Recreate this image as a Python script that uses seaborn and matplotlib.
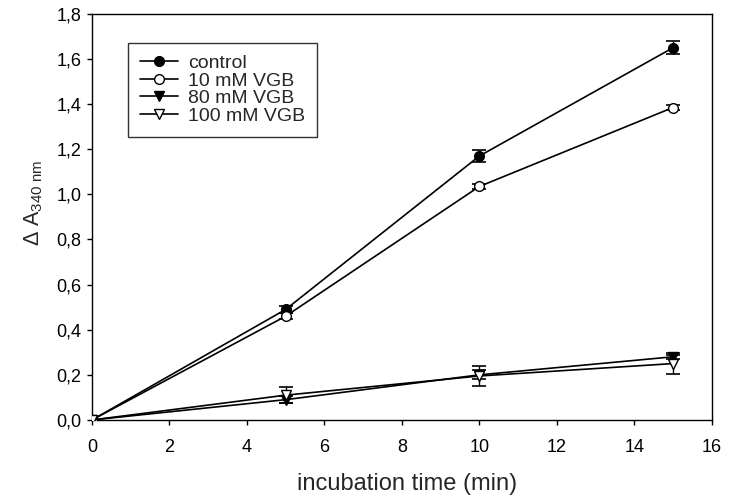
import matplotlib
matplotlib.use("Agg")
import matplotlib.pyplot as plt
import seaborn as sns
import pandas as pd

# Datos
tiempo = [0, 5, 10, 15]
grupos = ["control", "10 mM VGB", "80 mM VGB", "100 mM VGB"]
control = [0.0, 0.49, 1.17, 1.65]
vgb_10 = [0.0, 0.46, 1.035, 1.385]
vgb_80 = [0.0, 0.09, 0.20, 0.28]
vgb_100 = [0.0, 0.11, 0.195, 0.25]
err_control = [0.0, 0.015, 0.025, 0.028]
err_10 = [0.0, 0.012, 0.012, 0.01]
err_80 = [0.0, 0.015, 0.02, 0.01]
err_100 = [0.0, 0.035, 0.044, 0.045]

valores = [control, vgb_10, vgb_80, vgb_100]
errores = [err_control, err_10, err_80, err_100]
marcadores = ["o", "o", "v", "v"]
rellenos = ["black", "white", "black", "white"]

sns.set_style("white")
plt.rcParams['font.family'] = ['Liberation Sans', 'DejaVu Sans']
plt.rcParams['mathtext.fontset'] = 'custom'
plt.rcParams['mathtext.rm'] = 'Liberation Sans'
plt.rcParams['mathtext.it'] = 'Liberation Sans'

fig = plt.figure(figsize=(7.36, 4.97), dpi=100)
ax = fig.add_axes([0.125, 0.155, 0.842, 0.817])

for g, v, e, m, fc in zip(grupos, valores, errores, marcadores, rellenos):
    df = pd.DataFrame({"t": tiempo, "y": v})
    ax.errorbar(tiempo, v, yerr=e, fmt="none", ecolor="black",
                elinewidth=1, capsize=5, capthick=1.2, zorder=2)
    sns.lineplot(data=df, x="t", y="y", ax=ax, color="black", linewidth=1.2,
                 marker=m, markersize=7, markerfacecolor=fc,
                 markeredgecolor="black", markeredgewidth=1, label=g, zorder=3)

ax.set_xlim(0, 16)
ax.set_ylim(0, 1.8)
ax.set_xticks(range(0, 17, 2))
ax.set_yticks([i * 0.2 for i in range(10)])
ax.set_yticklabels([f"{i * 0.2:.1f}".replace(".", ",") for i in range(10)])
ax.tick_params(axis="both", direction="out", length=3.8, width=1, labelsize=13,
               left=True, bottom=True, top=False, right=False, colors="black")
ax.tick_params(axis="x", pad=10)
ax.tick_params(axis="y", pad=4)
for s in ax.spines.values():
    s.set_color("black")
    s.set_linewidth(1)

ax.set_xlabel("incubation time (min)", fontsize=17)
ax.set_ylabel(r"$\Delta$ A$_{\mathrm{340\ nm}}$", fontsize=15.5)
ax.yaxis.set_label_coords(-0.076, 0.535)
ax.xaxis.set_label_coords(0.508, -0.13)

leg = ax.legend(loc="upper left", bbox_to_anchor=(0.058, 0.929), fontsize=14,
                frameon=True, fancybox=False, edgecolor="black", handlelength=2.0,
                labelspacing=0.0, borderpad=0.6, handletextpad=0.5,
                borderaxespad=0)
leg.get_frame().set_linewidth(1)

fig.savefig("out.png", dpi=100)
